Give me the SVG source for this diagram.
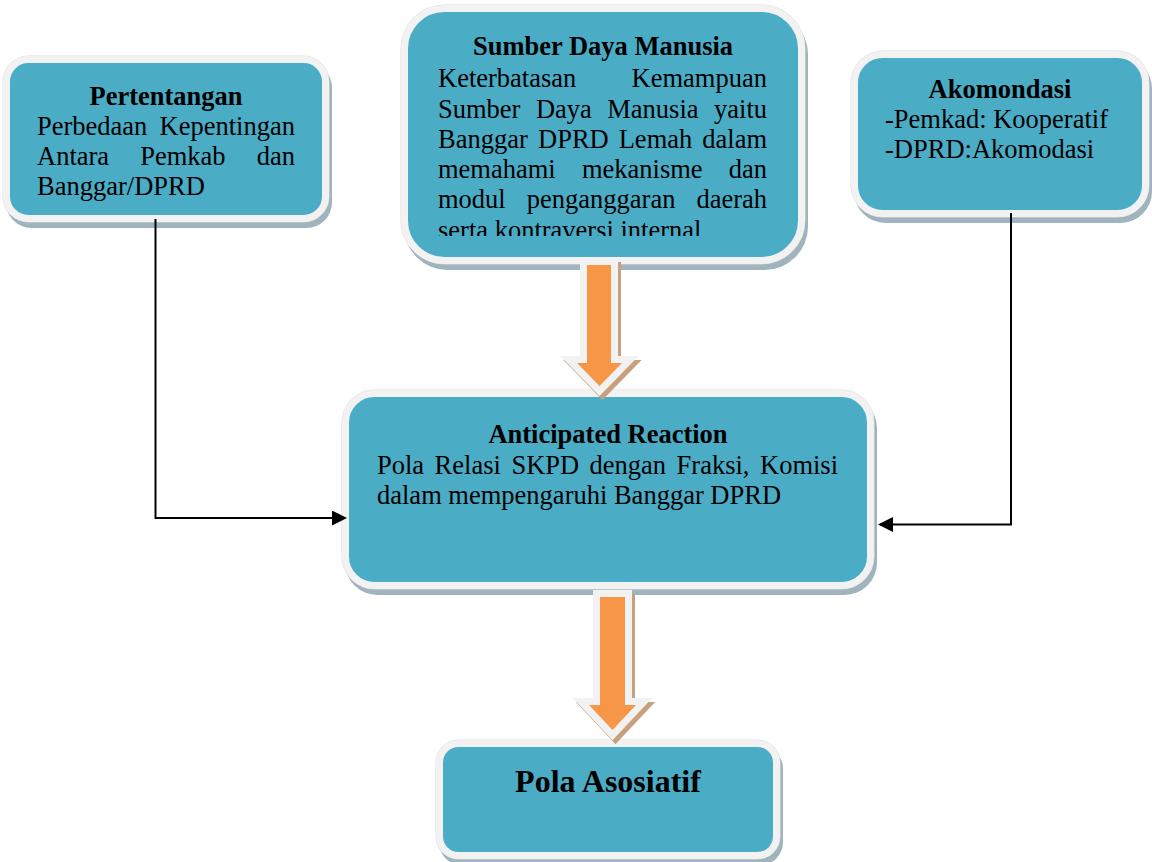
<svg xmlns="http://www.w3.org/2000/svg" width="1152" height="862" viewBox="0 0 1152 862">
<defs>
<style>
.shadow{fill:#9fb4bd}
.box{fill:#4bacc6;stroke:#f2f2f2;stroke-width:7}
.edge{fill:none;stroke:#dadada;stroke-width:1}
.t{font-family:"Liberation Serif","Times New Roman",serif;font-size:26.5px;fill:#000}
.b{font-weight:bold}
.c{text-anchor:middle}
.conn{fill:none;stroke:#000;stroke-width:2}
.arShadow{fill:#c9a07e;stroke:#c9a07e;stroke-width:14;stroke-linejoin:miter}
.arOutline{fill:#f2f2f2;stroke:#f2f2f2;stroke-width:14;stroke-linejoin:miter}
.arFill{fill:#f79646}
</style>
<marker id="ah" markerWidth="15" markerHeight="15" refX="13" refY="7.5" orient="auto" markerUnits="userSpaceOnUse">
<path d="M0,0 L15,7.5 L0,15 Z" fill="#000"/>
</marker>
<clipPath id="clipSdm"><rect x="408" y="12" width="390" height="224"/></clipPath>
</defs>
<rect width="1152" height="862" fill="#fff"/>

<g id="pertentangan">
<rect class="shadow" x="6" y="62" width="326" height="166" rx="25.5"/>
<rect class="edge" x="3" y="56" width="326" height="166" rx="25.5"/>
<rect class="box" x="6.5" y="59.5" width="319" height="159" rx="22"/>
<text class="t b c" x="166" y="105">Pertentangan</text>
<text class="t" y="135"><tspan x="37">Perbedaan</tspan><tspan x="159.6">Kepentingan</tspan></text>
<text class="t" y="165"><tspan x="37">Antara</tspan><tspan x="140.2">Pemkab</tspan><tspan x="256.7">dan</tspan></text>
<text class="t" x="37" y="195">Banggar/DPRD</text>
</g>

<g id="sdm">
<rect class="shadow" x="404" y="11" width="404" height="259" rx="43.5"/>
<rect class="edge" x="401" y="5" width="404" height="259" rx="43.5"/>
<rect class="box" x="404.5" y="8.5" width="397" height="252" rx="40"/>
<text class="t b c" x="603" y="55">Sumber Daya Manusia</text>
<text class="t" y="87.3"><tspan x="438">Keterbatasan</tspan><tspan x="631.6">Kemampuan</tspan></text>
<text class="t" y="118"><tspan x="438">Sumber</tspan><tspan x="535.9">Daya</tspan><tspan x="607.3">Manusia</tspan><tspan x="714.1">yaitu</tspan></text>
<text class="t" y="148.3"><tspan x="438">Banggar</tspan><tspan x="538">DPRD</tspan><tspan x="618.7">Lemah</tspan><tspan x="702.3">dalam</tspan></text>
<text class="t" y="178.3"><tspan x="438">memahami</tspan><tspan x="581.9">mekanisme</tspan><tspan x="728.7">dan</tspan></text>
<text class="t" y="208.3"><tspan x="438">modul</tspan><tspan x="526.8">penganggaran</tspan><tspan x="696.4">daerah</tspan></text>
<text class="t" x="438" y="239" clip-path="url(#clipSdm)">serta kontraversi internal</text>
</g>

<g id="akomondasi">
<rect class="shadow" x="854" y="57" width="298" height="166" rx="31.5"/>
<rect class="edge" x="851" y="51" width="298" height="166" rx="31.5"/>
<rect class="box" x="854.5" y="54.5" width="291" height="159" rx="28"/>
<text class="t b c" x="1000" y="98">Akomondasi</text>
<text class="t" x="885" y="128">-Pemkad: Kooperatif</text>
<text class="t" x="885" y="158">-DPRD:Akomodasi</text>
</g>

<g id="anticipated">
<rect class="shadow" x="345" y="396" width="532" height="199" rx="32.5"/>
<rect class="edge" x="342" y="390" width="532" height="199" rx="32.5"/>
<rect class="box" x="345.5" y="393.5" width="525" height="192" rx="29"/>
<text class="t b c" x="608" y="443">Anticipated Reaction</text>
<text class="t" y="473.5"><tspan x="377">Pola</tspan><tspan x="434.6">Relasi</tspan><tspan x="511.4">SKPD</tspan><tspan x="589.6">dengan</tspan><tspan x="676.6">Fraksi,</tspan><tspan x="760">Komisi</tspan></text>
<text class="t" x="377" y="504">dalam mempengaruhi Banggar DPRD</text>
</g>

<g id="pola-asosiatif">
<rect class="shadow" x="439" y="746" width="344" height="119" rx="22.5"/>
<rect class="edge" x="436" y="740" width="344" height="119" rx="22.5"/>
<rect class="box" x="439.5" y="743.5" width="337" height="112" rx="19"/>
<text class="t b c" x="608" y="792" style="font-size:32px">Pola Asosiatif</text>
</g>

<g id="connectors">
<path class="conn" d="M155.5,219 V518 H345" marker-end="url(#ah)"/>
<path class="conn" d="M1011,213 V524.5 H880" marker-end="url(#ah)"/>
<g id="arrow-sdm">
<polygon class="arShadow" transform="translate(3,4)" points="587,265 611,265 611,363 622,363 599.5,386 577,363 587,363"/>
<polygon class="arOutline" points="587,265 611,265 611,363 622,363 599.5,386 577,363 587,363"/>
<polygon class="arFill" points="587,265 611,265 611,363 622,363 599.5,386 577,363 587,363"/>
</g>
<g id="arrow-ar">
<polygon class="arShadow" transform="translate(3,4)" points="600,597 625,597 625,705 636,705 612.5,730 589,705 600,705"/>
<polygon class="arOutline" points="600,597 625,597 625,705 636,705 612.5,730 589,705 600,705"/>
<polygon class="arFill" points="600,597 625,597 625,705 636,705 612.5,730 589,705 600,705"/>
</g>
</g>
</svg>
